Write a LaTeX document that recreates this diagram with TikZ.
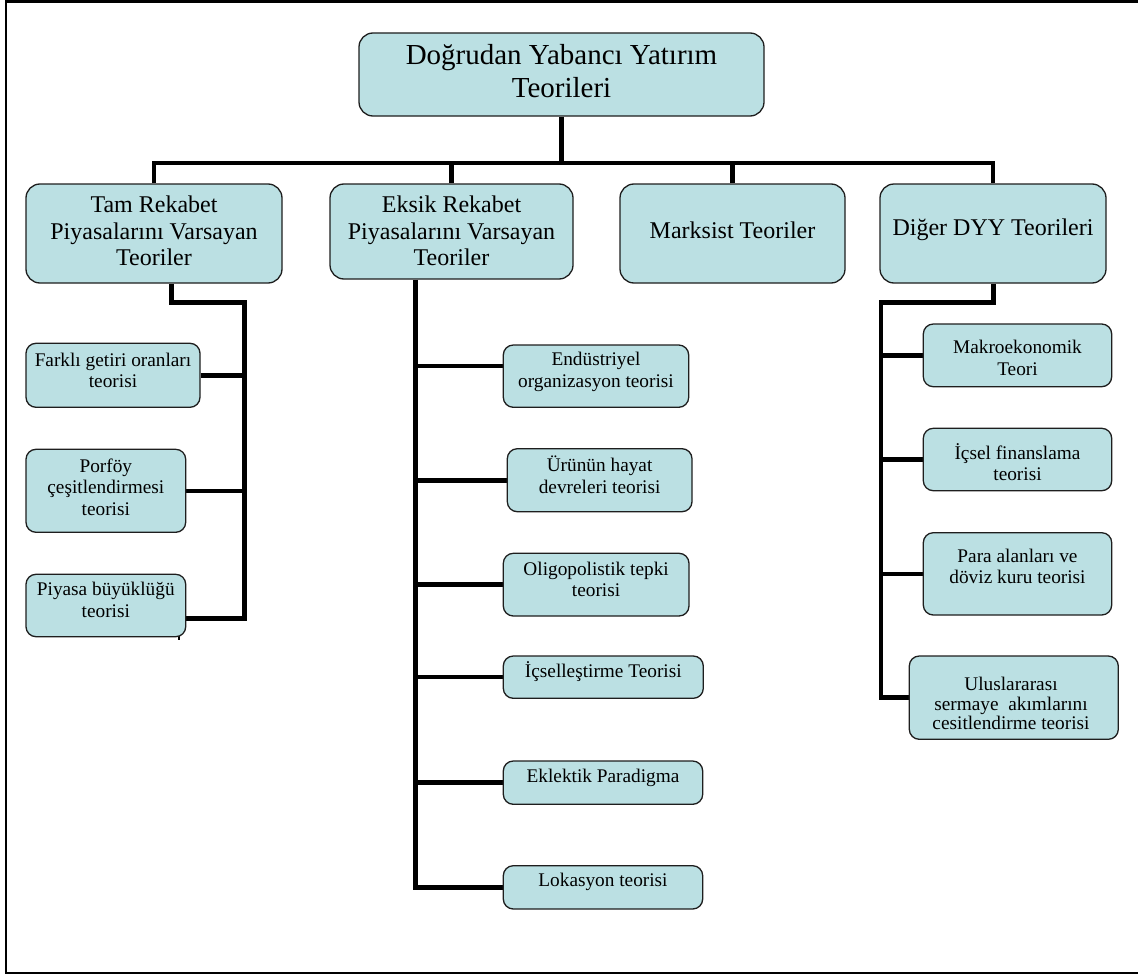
\documentclass[tikz,border=0pt]{standalone}
\usepackage{fontspec}
\setmainfont{Liberation Serif}
\pgfdeclarelayer{bg}
\pgfsetlayers{bg,main}
\definecolor{boxfill}{RGB}{187,224,227}
\definecolor{boxline}{RGB}{30,30,30}
\tikzset{
  panel/.style={draw=boxline, line width=1.3pt, fill=boxfill, inner sep=0pt},
  bigpanel/.style={panel, rounded corners=14pt},
  smallpanel/.style={panel, rounded corners=10pt},
  wire/.style={line width=4.6pt, line join=miter, line cap=butt},
  frameline/.style={line width=2.2pt},
  titletext/.style={align=center, font=\fontsize{29}{32.3}\selectfont},
  headtext/.style={align=center, font=\fontsize{24}{26.7}\selectfont},
  leaftext/.style={align=center, font=\fontsize{19.3}{21.6}\selectfont},
}
% a rounded box given by its corners: name, x1, y1, x2, y2, style
\newcommand\panelbox[6]{%
  \node[#6, minimum width={#4pt-#2pt}, minimum height={#5pt-#3pt}]
    (#1) at ({(#2+#4)/2},{(#3+#5)/2}) {};}
\begin{document}
\begin{tikzpicture}[x=1pt, y=-1pt]
\useasboundingbox (0,0) rectangle (1138,974);

% outer frame
\draw[frameline] (1138,1.5) -- (6,1.5) -- (6,972.7) -- (1138,972.7);

% root
\panelbox{root}{359}{33}{764}{116}{bigpanel}
\node[titletext] (root-t) at (561.5,71) {Doğrudan Yabancı Yatırım\\Teorileri};

% first level
\panelbox{tam}{26}{184}{282}{283}{bigpanel}
\panelbox{eks}{330}{184}{573}{279}{bigpanel}
\panelbox{mar}{620}{184}{845}{283}{bigpanel}
\panelbox{dig}{880}{184}{1106}{283}{bigpanel}
\node[headtext] (tam-t) at (154,231) {Tam Rekabet\\Piyasalarını Varsayan\\Teoriler};
\node[headtext] (eks-t) at (451.5,231) {Eksik Rekabet\\Piyasalarını Varsayan\\Teoriler};
\node[headtext] (mar-t) at (732.5,230) {Marksist Teoriler};
\node[headtext] (dig-t) at (993,230) {Diğer DYY Teorileri};

% perfect competition branch
\panelbox{far}{26}{343.3}{200}{407.3}{smallpanel}
\panelbox{por}{26}{449.3}{185.7}{532.3}{smallpanel}
\panelbox{piy}{26}{574.3}{185.7}{636.7}{smallpanel}
\node[leaftext] (far-t) at (113,370.5) {Farklı getiri oranları\\teorisi};
\node[leaftext] (por-t) at (105.8,487) {Porföy\\çeşitlendirmesi\\teorisi};
\node[leaftext] (piy-t) at (105.8,600) {Piyasa büyüklüğü\\teorisi};

% imperfect competition branch
\panelbox{end}{503.3}{345}{688.7}{407.3}{smallpanel}
\panelbox{uru}{507.3}{448.7}{692}{511.7}{smallpanel}
\panelbox{oli}{503.3}{553.3}{689}{616}{smallpanel}
\panelbox{ics}{503.3}{656}{703.3}{698.3}{smallpanel}
\panelbox{ekl}{503.3}{761}{702.7}{804.3}{smallpanel}
\panelbox{lok}{503.3}{865.7}{702.7}{909}{smallpanel}
\node[leaftext] (end-t) at (596,372) {Endüstriyel\\organizasyon teorisi};
\node[leaftext] (uru-t) at (599.6,474.5) {Ürünün hayat\\devreleri teorisi};
\node[leaftext] (oli-t) at (596.1,579.3) {Oligopolistik tepki\\teorisi};
\node[leaftext] (ics-t) at (603.3,671.5) {İçselleştirme Teorisi};
\node[leaftext] (ekl-t) at (603,777.5) {Eklektik Paradigma};
\node[leaftext] (lok-t) at (603,881.5) {Lokasyon teorisi};

% other theories branch
\panelbox{mak}{923.3}{324}{1111.7}{386.7}{smallpanel}
\panelbox{icf}{923.3}{428.3}{1111.7}{490.7}{smallpanel}
\panelbox{par}{923.3}{532.7}{1111.7}{615}{smallpanel}
\panelbox{ulu}{909.3}{656}{1118.3}{739.3}{smallpanel}
\node[leaftext] (mak-t) at (1017.5,358) {Makroekonomik\\Teori};
\node[leaftext] (icf-t) at (1017.5,462) {İçsel finanslama\\teorisi};
\node[leaftext] (par-t) at (1017.5,566.5) {Para alanları ve\\döviz kuru teorisi};
\node[leaftext, font=\fontsize{19.3}{19.4}\selectfont] (ulu-t) at (1011,703.5)
  {Uluslararası\\sermaye~~akımlarını\\cesitlendirme teorisi};

% connectors, behind the boxes
\coordinate (bus) at (0,163);
\coordinate (tamc) at (171.5,302.5);
\coordinate (tamr) at (244.5,302.5);
\coordinate (tamb) at (244.5,618.5);
\coordinate (eksv) at (415.3,887.3);
\coordinate (digc) at (993.5,302.5);
\coordinate (digl) at (880.8,302.5);
\coordinate (digb) at (880.8,697.7);
\begin{pgfonlayer}{bg}
  \draw[wire] (root.south) -- (root.south |- bus);
  \draw[wire] (tam.north) -- (tam.north |- bus) -- (dig.north |- bus) -- (dig.north);
  \draw[wire] (eks.north) -- (eks.north |- bus);
  \draw[wire] (mar.north) -- (mar.north |- bus);

  \draw[wire] (tamc |- tam.south) -- (tamc) -- (tamr) -- (tamb) -- (tamb -| piy.east);
  \draw[wire] (far.east) -- (far.east -| tamr);
  \draw[wire] (por.east) -- (por.east -| tamr);
  \draw[wire, line width=2.8pt] (179,634) -- (179,639.5);

  \draw[wire] (eksv |- eks.south) -- (eksv) -- (eksv -| lok.west);
  \draw[wire] (eksv |- 0,366) -- (end.west |- 0,366);
  \draw[wire] (uru.west) -- (uru.west -| eksv);
  \draw[wire] (oli.west) -- (oli.west -| eksv);
  \draw[wire] (ics.west) -- (ics.west -| eksv);
  \draw[wire] (ekl.west) -- (ekl.west -| eksv);

  \draw[wire] (digc |- dig.south) -- (digc) -- (digl) -- (digb) -- (digb -| ulu.west);
  \draw[wire] (mak.west) -- (mak.west -| digl);
  \draw[wire] (icf.west) -- (icf.west -| digl);
  \draw[wire] (par.west) -- (par.west -| digl);
\end{pgfonlayer}
\end{tikzpicture}
\end{document}
